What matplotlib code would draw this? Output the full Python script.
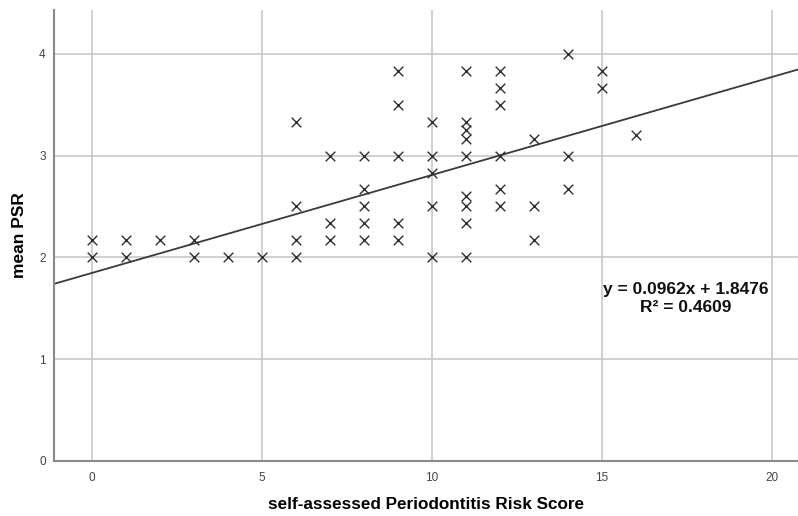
import matplotlib
matplotlib.use("Agg")
import matplotlib.pyplot as plt
import numpy as np

plt.rcParams['font.family'] = ['Liberation Sans', 'DejaVu Sans']

# Data: self-assessed risk score (x) vs mean PSR (y)
risk_score = [0, 0, 1, 1, 2, 3, 3, 4, 5,
              6, 6, 6, 6,
              7, 7, 7,
              8, 8, 8, 8, 8,
              9, 9, 9, 9, 9,
              10, 10, 10, 10, 10,
              11, 11, 11, 11, 11, 11, 11, 11, 11,
              12, 12, 12, 12, 12, 12,
              13, 13, 13,
              14, 14, 14,
              15, 15,
              16]
mean_psr = [2.0, 2.167, 2.0, 2.167, 2.167, 2.0, 2.167, 2.0, 2.0,
            2.0, 2.167, 2.5, 3.333,
            2.167, 2.333, 3.0,
            2.167, 2.333, 2.5, 2.667, 3.0,
            2.167, 2.333, 3.0, 3.5, 3.833,
            2.0, 2.5, 2.833, 3.0, 3.333,
            2.0, 2.333, 2.5, 2.6, 3.0, 3.167, 3.25, 3.333, 3.833,
            2.5, 2.667, 3.0, 3.5, 3.667, 3.833,
            2.167, 2.5, 3.167,
            2.667, 3.0, 4.0,
            3.667, 3.833,
            3.2]

slope = 0.0962
intercept = 1.8476
r_squared = 0.4609

x_ticks = [0, 5, 10, 15, 20]
y_ticks = [0, 1, 2, 3, 4]

fig = plt.figure(figsize=(7.98, 5.16), dpi=100)
ax = fig.add_axes([0.0677, 0.1066, 0.9323, 0.874])

xlim = (-1.12, 20.77)
ylim = (0, 4.43)
ax.set_xlim(*xlim)
ax.set_ylim(*ylim)

ax.set_xticks(x_ticks)
ax.set_yticks(y_ticks)
ax.grid(True, color='#c8c8c8', linewidth=1.2)
ax.set_axisbelow(True)

for s in ['top', 'right']:
    ax.spines[s].set_visible(False)
for s in ['left', 'bottom']:
    ax.spines[s].set_color('#8a8a8a')
    ax.spines[s].set_linewidth(1.5)

ax.tick_params(axis='both', length=0, labelsize=8.5, labelcolor='#444444')
ax.tick_params(axis='x', pad=8)
ax.tick_params(axis='y', pad=6)

xs = np.array(xlim)
ax.plot(xs, slope * xs + intercept, color='#3a3a3a', linewidth=1.3, zorder=2)

ax.scatter(risk_score, mean_psr, marker='x', s=48, color='#2e2e2e',
           linewidths=1.0, zorder=3)

ax.text(17.47, 1.595, f"y = {slope}x + {intercept}\nR\u00b2 = {r_squared}",
        ha='center', va='center', fontsize=12.5, fontweight='bold',
        linespacing=1.2, color='#111111')

ax.set_xlabel("self-assessed Periodontitis Risk Score", fontsize=12.3,
              fontweight='bold', labelpad=9)
ax.set_ylabel("mean PSR", fontsize=12.5, fontweight='bold', labelpad=9)

fig.savefig("out.png", dpi=100)
